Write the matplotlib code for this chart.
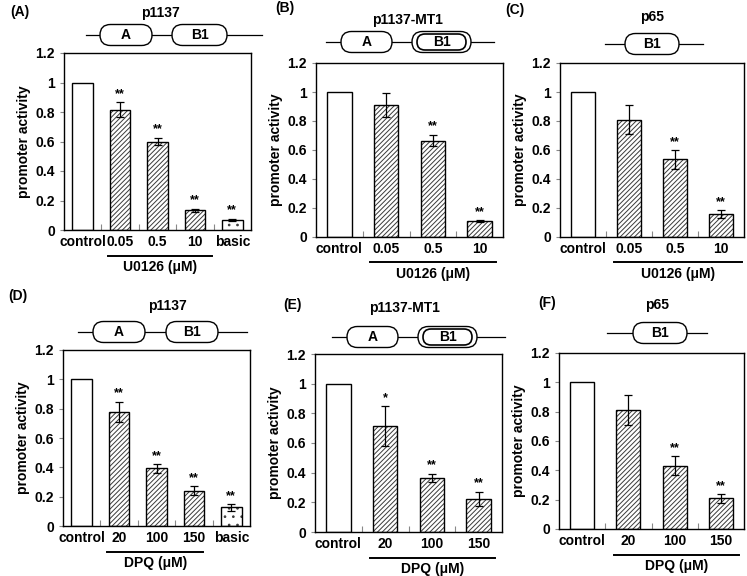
import matplotlib
matplotlib.use("Agg")
import matplotlib.pyplot as plt
from matplotlib.patches import FancyBboxPatch

plt.rcParams['font.family'] = ['Liberation Sans', 'DejaVu Sans']
plt.rcParams['font.weight'] = 'bold'
plt.rcParams['hatch.linewidth'] = 0.7

# ---- data ----
u0126_cats = ['control', '0.05', '0.5', '10']
dpq_cats = ['control', '20', '100', '150']

a_vals = [1.0, 0.815, 0.60, 0.135, 0.07]
a_err = [0, 0.05, 0.025, 0.01, 0.006]
a_star = ['', '**', '**', '**', '**']

b_vals = [1.0, 0.91, 0.665, 0.11]
b_err = [0, 0.085, 0.04, 0.005]
b_star = ['', '', '**', '**']

c_vals = [1.0, 0.81, 0.535, 0.157]
c_err = [0, 0.097, 0.065, 0.026]
c_star = ['', '', '**', '**']

d_vals = [1.0, 0.78, 0.393, 0.241, 0.127]
d_err = [0, 0.068, 0.03, 0.032, 0.023]
d_star = ['', '**', '**', '**', '**']

e_vals = [1.0, 0.715, 0.365, 0.222]
e_err = [0, 0.135, 0.028, 0.05]
e_star = ['', '*', '**', '**']

f_vals = [1.0, 0.814, 0.432, 0.209]
f_err = [0, 0.102, 0.066, 0.03]
f_star = ['', '', '**', '**']

W, H = 747, 576
fig = plt.figure(figsize=(W / 100, H / 100), dpi=100)
FS = 10


def add_ax(l, t, r, b):
    return fig.add_axes([l / W, 1 - b / H, (r - l) / W, (b - t) / H])


def panel(ax, cats, vals, err, stars, drug, bar_w, br):
    n = len(cats)
    x = list(range(n))
    for i in x:
        if i == 0:
            hatch = None
        elif cats[i] == 'basic':
            hatch = '..'
        else:
            hatch = '///////'
        ax.bar(i, vals[i], width=bar_w, color='white', edgecolor='#3a3a3a',
               linewidth=0, hatch=hatch, zorder=2)
        ax.bar(i, vals[i], width=bar_w, color='none', edgecolor='black',
               linewidth=1.0, zorder=3)
        if err[i] > 0:
            ax.errorbar(i, vals[i], yerr=err[i], color='black', capsize=3,
                        elinewidth=0.9, capthick=0.9, zorder=4)
        if stars[i]:
            ax.text(i, vals[i] + err[i] + 0.015, stars[i], ha='center',
                    va='bottom', fontsize=9, fontweight='bold')
    ax.set_xlim(-0.5, n - 0.5)
    ax.set_ylim(0, 1.2)
    ax.set_yticks([0, 0.2, 0.4, 0.6, 0.8, 1.0, 1.2])
    ax.set_yticklabels(['0', '0.2', '0.4', '0.6', '0.8', '1', '1.2'])
    ax.set_xticks([i + 0.5 for i in range(n - 1)])
    ax.set_xticklabels([])
    ax.tick_params(axis='x', direction='in', length=4, color='#888888')
    ax.tick_params(axis='y', direction='out', length=3, color='#888888',
                   labelsize=FS)
    for lab_x, lab in zip(x, cats):
        ax.text(lab_x, -0.03, lab, ha='center', va='top', fontsize=FS,
                fontweight='bold', transform=ax.get_xaxis_transform())
    ax.set_ylabel('promoter activity', fontsize=FS, fontweight='bold',
                  labelpad=3)
    for sp in ax.spines.values():
        sp.set_linewidth(1.0)
    trans = ax.get_xaxis_transform()
    ax.plot([br[0], br[1]], [-0.145, -0.145], color='black', lw=1.4,
            transform=trans, clip_on=False)
    ax.text((br[0] + br[1]) / 2, -0.17, drug + ' (\u03bcM)', ha='center',
            va='top', fontsize=FS, fontweight='bold', transform=trans)


axA = add_ax(64, 53, 251, 230)
panel(axA, u0126_cats + ['basic'], a_vals, a_err, a_star, 'U0126', 0.55, (0.68, 3.46))
axB = add_ax(316, 63, 503, 237)
panel(axB, u0126_cats, b_vals, b_err, b_star, 'U0126', 0.52, (0.65, 3.35))
axC = add_ax(560, 63, 744, 237)
panel(axC, u0126_cats, c_vals, c_err, c_star, 'U0126', 0.52, (0.68, 3.45))
axD = add_ax(63, 350, 250, 526)
panel(axD, dpq_cats + ['basic'], d_vals, d_err, d_star, 'DPQ', 0.55, (0.68, 3.25))
axE = add_ax(315, 354, 502, 532)
panel(axE, dpq_cats, e_vals, e_err, e_star, 'DPQ', 0.52, (0.68, 3.35))
axF = add_ax(559, 353, 744, 529)
panel(axF, dpq_cats, f_vals, f_err, f_star, 'DPQ', 0.52, (0.68, 3.4))

# overlay in pixel coordinates for labels and promoter diagrams
ov = fig.add_axes([0, 0, 1, 1], zorder=10)
ov.set_xlim(0, W)
ov.set_ylim(H, 0)
ov.axis('off')
ov.patch.set_alpha(0)


def pill(x0, x1, yc, h, label, double=False):
    ov.add_patch(FancyBboxPatch((x0, yc - h / 2), x1 - x0, h,
                                boxstyle='round,pad=0,rounding_size=%g' % (h / 2),
                                fc='white', ec='black', lw=1.0, zorder=3))
    if double:
        h2 = h - 5
        ov.add_patch(FancyBboxPatch((x0 + 5, yc - h2 / 2), x1 - x0 - 10, h2,
                                    boxstyle='round,pad=0,rounding_size=%g' % (h2 / 2),
                                    fc='white', ec='black', lw=1.2, zorder=4))
    ov.text((x0 + x1) / 2, yc, label, ha='center', va='center', fontsize=FS,
            fontweight='bold', zorder=5)


def construct(title, tx, ty, lx0, lx1, ly, boxes):
    ov.text(tx, ty, title, ha='center', va='center', fontsize=FS,
            fontweight='bold')
    ov.plot([lx0, lx1], [ly, ly], color='black', lw=0.9, zorder=2)
    for b in boxes:
        pill(b[0], b[1], ly, 21, b[2], b[3] if len(b) > 3 else False)


construct('p1137', 160, 13, 86, 262, 35,
          [(100, 152, 'A'), (172, 227, 'B1')])
construct('p1137-MT1', 407, 20, 326, 494, 42,
          [(341, 392, 'A'), (412, 471, 'B1', True)])
construct('p65', 652, 17, 605, 703, 44,
          [(625, 679, 'B1')])
construct('p1137', 167, 306, 78, 247, 332,
          [(93, 145, 'A'), (166, 218, 'B1')])
construct('p1137-MT1', 404, 308, 332, 505, 337,
          [(347, 398, 'A'), (418, 477, 'B1', True)])
construct('p65', 657, 305, 607, 707, 333,
          [(633, 687, 'B1')])

for lab, x, y in [('(A)', 20, 12), ('(B)', 285, 8), ('(C)', 515, 10),
                  ('(D)', 18, 296), ('(E)', 293, 305), ('(F)', 547, 303)]:
    ov.text(x, y, lab, ha='center', va='center', fontsize=FS,
            fontweight='bold')

plt.savefig('out.png', dpi=100)
